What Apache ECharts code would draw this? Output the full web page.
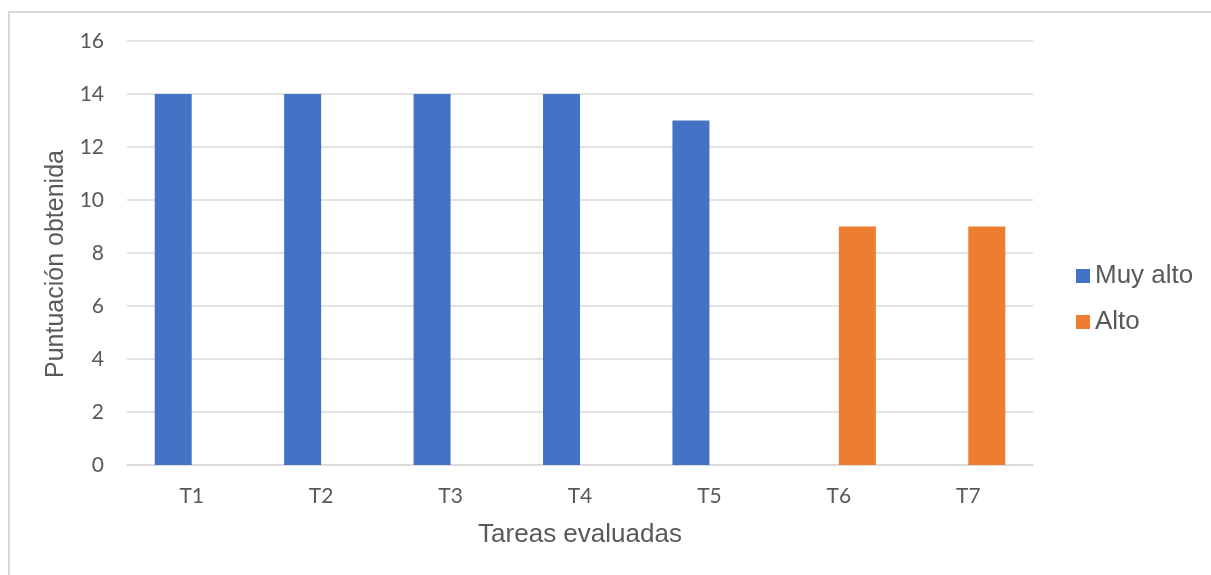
<!DOCTYPE html>
<html>
<head>
<meta charset="utf-8">
<script src="https://cdn.jsdelivr.net/npm/echarts@6/dist/echarts.min.js"></script>
<style>
	html, body { margin: 0; padding: 0; background: #fff; }
	.frame {
		position: absolute;
		left: 8px;
		top: 11px;
		width: 1220px;
		height: 580px;
		border-top: 2px solid #d9d9d9;
		border-left: 2px solid #d9d9d9;
	}
	#chart { position: absolute; left: 0; top: 0; width: 1211px; height: 575px; }
</style>
</head>
<body>
<div class="frame"></div>
<div id="chart"></div>
<script>
	const categories = ['T1', 'T2', 'T3', 'T4', 'T5', 'T6', 'T7']
	const muyAlto = [14, 14, 14, 14, 13, '-', '-']
	const alto = ['-', '-', '-', '-', '-', 9, 9]
	const yTicks = { min: 0, max: 16, interval: 2 }

	const myCharts = echarts.init(document.getElementById('chart'))
	const option = {
		animation: false,
		grid: {
			left: 127,
			right: 178,
			top: 41,
			bottom: 110
		},
		legend: {
			orient: 'vertical',
			left: 1076,
			top: 263,
			padding: 0,
			itemWidth: 14,
			itemHeight: 14,
			itemGap: 20,
			icon: 'rect',
			textStyle: {
				color: '#595959',
				fontSize: 26,
				fontFamily: 'Liberation Sans'
			},
			data: ['Muy alto', 'Alto']
		},
		xAxis: {
			type: 'category',
			data: categories,
			name: 'Tareas evaluadas',
			nameLocation: 'middle',
			nameGap: 57,
			nameTextStyle: {
				color: '#595959',
				fontSize: 26,
				fontFamily: 'Liberation Sans'
			},
			axisLine: { lineStyle: { color: '#d9d9d9', width: 1.5 } },
			axisTick: { show: false },
			axisLabel: {
				margin: 21,
				color: '#595959',
				fontSize: 21,
				fontFamily: 'Lato'
			}
		},
		yAxis: {
			type: 'value',
			min: yTicks.min,
			max: yTicks.max,
			interval: yTicks.interval,
			name: 'Puntuación obtenida',
			nameLocation: 'middle',
			nameGap: 56,
			nameTextStyle: {
				color: '#595959',
				fontSize: 25,
				fontFamily: 'Liberation Sans',
				// empuja el título un poco hacia abajo
				padding: [0, 22, 0, 0]
			},
			axisLine: { show: false },
			axisTick: { show: false },
			axisLabel: {
				margin: 23,
				color: '#595959',
				fontSize: 21,
				fontFamily: 'Lato'
			},
			splitLine: {
				lineStyle: { color: '#d9d9d9', width: 1.5 }
			}
		},
		series: [
			{
				name: 'Muy alto',
				type: 'bar',
				barWidth: 37,
				barGap: '0%',
				itemStyle: { color: '#4472c4' },
				data: muyAlto
			},
			{
				name: 'Alto',
				type: 'bar',
				barWidth: 37,
				itemStyle: { color: '#ed7d31' },
				data: alto
			}
		]
	}
	myCharts.setOption(option)
</script>
</body>
</html>
